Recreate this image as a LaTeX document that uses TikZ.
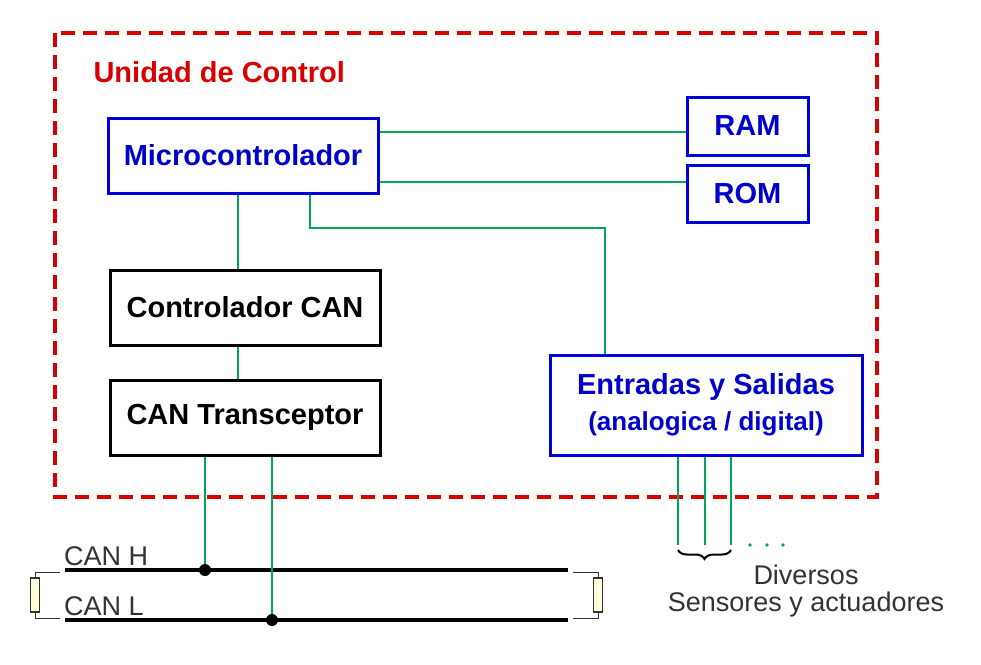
\documentclass[tikz,border=0pt]{standalone}
\usepackage{fontspec}
\setmainfont{Liberation Sans}
\usetikzlibrary{decorations.pathreplacing}
\begin{document}
\begin{tikzpicture}[x=1pt,y=-1pt,
  bx/.style={draw=blue!85!black,line width=3pt,minimum height=#1,font=\bfseries\fontsize{29}{34}\selectfont,text=blue!80!black,inner sep=0pt},
  kb/.style={draw=black,line width=3pt,minimum width=270pt,minimum height=75pt,font=\bfseries\fontsize{29}{34}\selectfont,inner sep=0pt},
  wire/.style={draw=teal!70!green,line width=2.5pt},
  bus/.style={line width=3.5pt},
  lbl/.style={text=black!80,font=\fontsize{27}{32}\selectfont},
  term/.style={draw=black!80,line width=1pt}]
\useasboundingbox (0,0) rectangle (981,664);
\draw[red!85!black,line width=3.5pt,dash pattern=on 14pt off 8pt] (55,33) rectangle (877,497);
\node[anchor=west,text=red!85!black,font=\bfseries\fontsize{29}{34}\selectfont] (uc) at (90,72) {Unidad de Control};
\node[bx=75pt,minimum width=270pt] (mc) at (243,155.5) {Microcontrolador};
\node[bx=58pt,minimum width=121pt] (ram) at (747.5,126) {RAM};
\node[bx=57pt,minimum width=121pt] (rom) at (747.5,193.5) {ROM};
\node[kb] (cc) at (245,307.5) {Controlador CAN};
\node[kb] (ct) at (245,417.5) {CAN Transceptor};
\node[bx=100pt,minimum width=312pt,align=center] (es) at (706,405) {Entradas y Salidas\\[2pt]{\fontsize{26}{30}\selectfont(analogica / digital)}};
\draw[wire] (mc.east |- 0,132) -- (ram.west |- 0,132);
\draw[wire] (mc.east |- 0,182) -- (rom.west |- 0,182);
\draw[wire] (mc.south -| 310,0) |- (605,228) -- (es.north -| 605,0);
\draw[wire] (mc.south -| 238,0) -- (cc.north -| 238,0);
\draw[wire] (cc.south -| 238,0) -- (ct.north -| 238,0);
\coordinate (hl) at (65,570); \coordinate (hr) at (568,570);
\coordinate (ll) at (65,620); \coordinate (lr) at (568,620);
\draw[bus] (hl) -- (hr); \draw[bus] (ll) -- (lr);
\node[anchor=south west,inner sep=0pt,lbl] (canh) at (64,566) {CAN H};
\node[anchor=south west,inner sep=0pt,lbl] (canl) at (64,616) {CAN L};
\coordinate (dh) at (205,570); \coordinate (dl) at (272,620);
\draw[wire] (ct.south -| dh) -- (dh);
\draw[wire] (ct.south -| dl) -- (dl);
\fill (dh) circle (6pt); \fill (dl) circle (6pt);
\foreach \n/\x in {a/35,b/598}{
  \node[draw=black!80,fill=yellow!15,line width=1.2pt,minimum width=9pt,minimum height=34pt,inner sep=0pt] (r\n) at (\x,595) {};
}
\draw[term] (60,572) -| (ra.north); \draw[term] (60,618) -| (ra.south);
\draw[term] (573,572) -| (rb.north); \draw[term] (573,618) -| (rb.south);
\foreach \x/\n in {678/p,705/q,731/s}{
  \coordinate (\n) at (\x,545);
  \draw[wire] (es.south -| \x,0) -- (\n);
}
\foreach \x in {750,767,783} \fill[teal!70!green] (\x,545) circle (1.8pt);
\draw[decorate,decoration={brace,mirror,amplitude=9pt},line width=2pt] (678,550) -- (731,550);
\node[lbl] (dv) at (806,575) {Diversos};
\node[lbl] (sa) at (806,605) {Sensores y actuadores};
\end{tikzpicture}
\end{document}
